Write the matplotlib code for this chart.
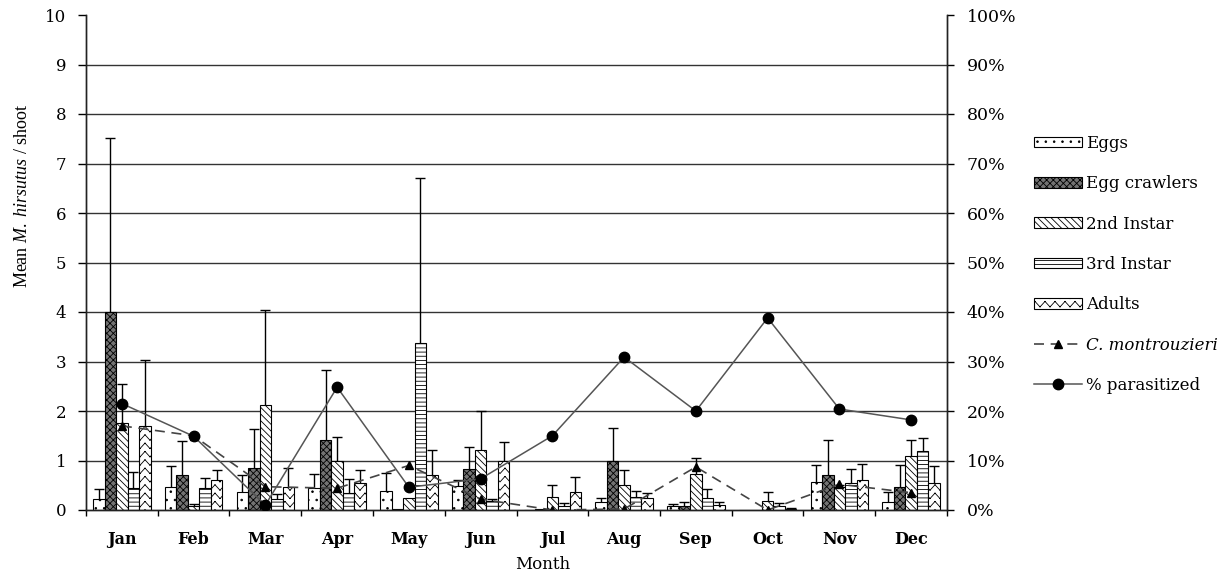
import warnings
import numpy as np
import matplotlib
matplotlib.use("Agg")
import matplotlib.pyplot as plt
import matplotlib.hatch as mhatch
from matplotlib.path import Path
from matplotlib.patches import Patch
from matplotlib.lines import Line2D

warnings.filterwarnings("ignore")

# ---------------- data ----------------
months = ['Jan', 'Feb', 'Mar', 'Apr', 'May', 'Jun',
          'Jul', 'Aug', 'Sep', 'Oct', 'Nov', 'Dec']

eggs = [0.22, 0.46, 0.36, 0.45, 0.39, 0.49, 0.00, 0.17, 0.08, 0.00, 0.57, 0.17]
eggs_err = [0.21, 0.42, 0.35, 0.27, 0.35, 0.11, 0.00, 0.08, 0.04, 0.00, 0.33, 0.19]

crawlers = [4.00, 0.71, 0.85, 1.41, 0.02, 0.83, 0.02, 0.99, 0.08, 0.00, 0.71, 0.47]
crawlers_err = [3.52, 0.68, 0.78, 1.42, 0.00, 0.45, 0.00, 0.66, 0.09, 0.00, 0.70, 0.43]

second = [1.76, 0.08, 2.13, 0.99, 0.25, 1.21, 0.27, 0.50, 0.72, 0.19, 0.46, 1.09]
second_err = [0.79, 0.04, 1.92, 0.49, 0.00, 0.79, 0.23, 0.31, 0.34, 0.17, 0.05, 0.32]

third = [0.44, 0.44, 0.22, 0.35, 3.38, 0.19, 0.08, 0.26, 0.24, 0.08, 0.54, 1.19]
third_err = [0.32, 0.20, 0.10, 0.27, 3.33, 0.03, 0.07, 0.12, 0.18, 0.06, 0.28, 0.27]

adults = [1.70, 0.60, 0.46, 0.54, 0.71, 0.99, 0.36, 0.24, 0.10, 0.02, 0.60, 0.54]
adults_err = [1.33, 0.20, 0.39, 0.27, 0.50, 0.39, 0.30, 0.11, 0.07, 0.03, 0.32, 0.34]

montrouzieri = [1.70, 1.50, 0.47, 0.44, 0.90, 0.22, 0.00, 0.02, 0.87, 0.00, 0.52, 0.35]
parasitized = [21.5, 14.9, 1.0, 24.8, 4.6, 6.3, 15.0, 30.9, 20.0, 38.8, 20.4, 18.2]

stage_names = ['Eggs', 'Egg crawlers', '2nd Instar', '3rd Instar', 'Adults']


# ---------------- zigzag hatch ('z') ----------------
class ZigZagHatch(mhatch.HatchPatternBase):
    """Rows of zigzag strokes, each stroke its own two-point sub-path."""

    def __init__(self, hatch, density):
        self.num_rows = hatch.count('z') * density
        self.num_teeth = int(self.num_rows * 0.9)
        self.num_segments = 2 * self.num_teeth
        self.num_vertices = (self.num_rows * self.num_segments * 2
                             if self.num_rows else 0)

    def set_vertices_and_codes(self, vertices, codes):
        nseg = self.num_segments
        xs = np.linspace(0.0, 1.0, nseg + 1)
        amp = 0.33 / self.num_rows
        offs = amp * np.where(np.arange(nseg + 1) % 2 == 0, -1.0, 1.0)
        k = 0
        for r in range(self.num_rows):
            y0 = (r + 0.5) / self.num_rows
            for j in range(nseg):
                vertices[k] = (xs[j], y0 + offs[j])
                vertices[k + 1] = (xs[j + 1], y0 + offs[j + 1])
                codes[k] = Path.MOVETO
                codes[k + 1] = Path.LINETO
                k += 2


mhatch._hatch_types.append(ZigZagHatch)

# ---------------- style ----------------
plt.rcParams['font.family'] = ['DejaVu Serif']
plt.rcParams['mathtext.fontset'] = 'custom'
plt.rcParams['mathtext.rm'] = 'Liberation Serif'
plt.rcParams['mathtext.it'] = 'Liberation Serif:italic'
plt.rcParams['hatch.linewidth'] = 0.6

stage_styles = [
    dict(facecolor='white', hatch='..'),
    dict(facecolor='#737373', hatch='xxxxx'),
    dict(facecolor='white', hatch='\\\\\\\\\\'),
    dict(facecolor='white', hatch='----'),
    dict(facecolor='white', hatch='zz'),
]

fig = plt.figure(figsize=(12.27, 5.73), dpi=100)
ax = fig.add_axes([86 / 1227, 1 - 510 / 573, (947 - 86) / 1227, 495 / 573])
ax2 = ax.twinx()

x = np.arange(len(months))
width = 0.16
series = [eggs, crawlers, second, third, adults]
errors = [eggs_err, crawlers_err, second_err, third_err, adults_err]

# horizontal grid lines
for yv in range(1, 10):
    ax.axhline(yv, color='#333333', lw=1.0, zorder=0.5)

for i, (vals, errs, st) in enumerate(zip(series, errors, stage_styles)):
    xpos = x + (i - 2) * width
    ax.bar(xpos, vals, width, edgecolor='black', linewidth=0.8,
           zorder=2, **st)
    vals = np.asarray(vals)
    errs = np.asarray(errs)
    m = errs > 0
    if m.any():
        eb = ax.errorbar(xpos[m], vals[m], yerr=[np.zeros(m.sum()), errs[m]],
                         fmt='none', ecolor='black', elinewidth=1.0,
                         capsize=3.5, capthick=1.0, zorder=2.5)
        caps = eb.lines[1]
        if len(caps) > 1:
            caps[0].set_visible(False)

ax.plot(x, montrouzieri, color='#444444', lw=1.2, ls=(0, (6, 4)),
        marker='^', markersize=6, markerfacecolor='black',
        markeredgecolor='black', zorder=4)
ax2.plot(x, parasitized, color='#555555', lw=1.1, marker='o',
         markersize=7.5, markerfacecolor='black', markeredgecolor='black',
         zorder=4)

# ---------------- axes ----------------
ax.set_xlim(-0.5, len(months) - 0.5)
ax.set_ylim(0, 10)
ax2.set_ylim(0, 100)
ax.set_yticks(range(0, 11))
ax2.set_yticks(range(0, 101, 10))
ax2.set_yticklabels([f'{v}%' for v in range(0, 101, 10)])

ax.set_xticks(x)
ax.set_xticklabels(months, fontsize=11.5, fontweight='bold')
ax.set_xticks(np.arange(-0.5, len(months), 1.0), minor=True)
ax.tick_params(axis='x', which='major', length=0, pad=15)
ax.tick_params(axis='x', which='minor', length=4, width=1.0, direction='out')
ax.tick_params(axis='y', length=6, width=1.0, labelsize=12, pad=8)
ax2.tick_params(axis='y', length=5, width=1.0, labelsize=12.5, pad=9)

for a in (ax, ax2):
    a.spines['top'].set_visible(False)
    for s in a.spines.values():
        s.set_linewidth(1.0)
        s.set_color('#222222')

ax.set_xlabel('Month', fontsize=12)
ax.xaxis.set_label_coords((543 - 86) / 861, -0.093)
ax.set_ylabel(r'Mean $\mathit{M.\ hirsutus}$ / shoot', fontsize=13,
              family='Liberation Serif')
ax.yaxis.set_label_coords(-0.064, 0.636)

# ---------------- legend ----------------
handles = [Patch(edgecolor='black', linewidth=0.8, **st) for st in stage_styles]
handles += [
    Line2D([], [], color='#444444', lw=1.2, ls=(0, (6, 4)), marker='^',
           markersize=6, markerfacecolor='black', markeredgecolor='black'),
    Line2D([], [], color='#555555', lw=1.1, marker='o', markersize=7.5,
           markerfacecolor='black', markeredgecolor='black'),
]
labels = stage_names + ['C. montrouzieri', '% parasitized']
leg = fig.legend(handles, labels, loc='upper left',
                 bbox_to_anchor=(1034 / 1227, 1 - 135 / 573),
                 frameon=False, fontsize=12, handlelength=2.9,
                 handleheight=0.6, handletextpad=0.25, labelspacing=1.4,
                 borderpad=0, borderaxespad=0)
leg.get_texts()[5].set_fontstyle('italic')

fig.savefig('out.png', dpi=100)
